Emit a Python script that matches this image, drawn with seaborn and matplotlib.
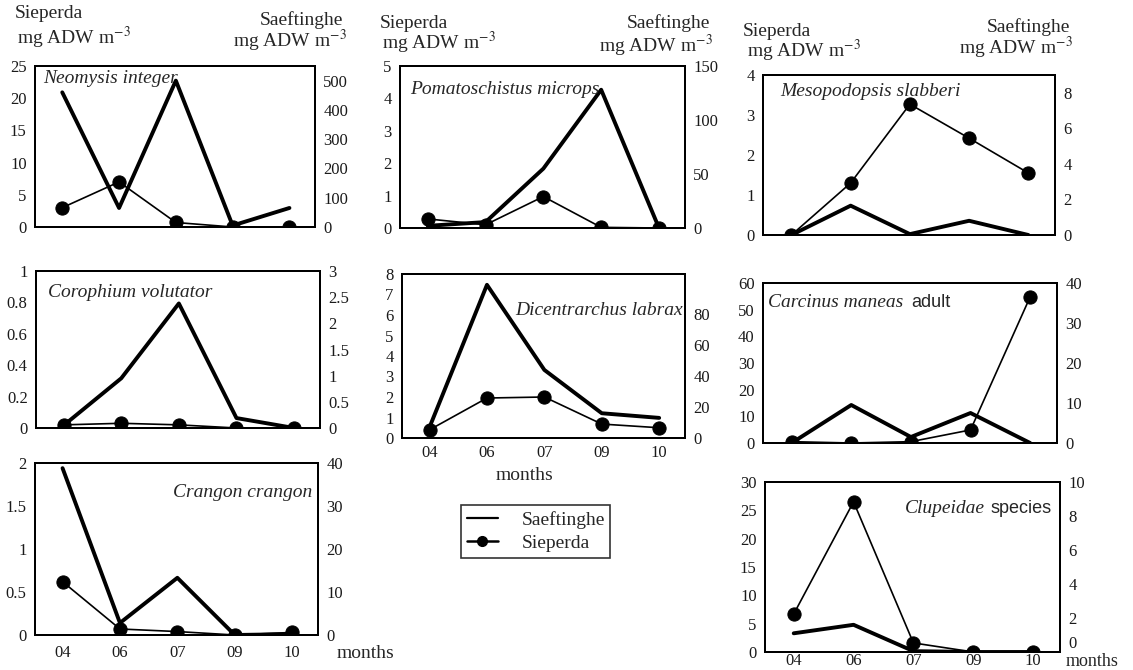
import matplotlib

matplotlib.use("Agg")
import matplotlib.pyplot as plt  # noqa: E402
import pandas as pd  # noqa: E402
import seaborn as sns  # noqa: E402
from matplotlib.lines import Line2D  # noqa: E402

MONTHS = ["04", "06", "07", "09", "10"]

# Sieperda on the left axis, Saeftinghe on the right axis (mg ADW m-3)
neomysis_sieperda = [3.0, 7.0, 0.7, 0.0, 0.0]
neomysis_saeftinghe = [460, 65, 500, 5, 65]
pomato_sieperda = [0.28, 0.1, 0.97, 0.02, 0.0]
pomato_saeftinghe = [2, 5.5, 55, 128, 0]
mesopo_sieperda = [0.0, 1.3, 3.27, 2.42, 1.55]
mesopo_saeftinghe = [0.0, 1.65, 0.05, 0.8, 0.0]
corophium_sieperda = [0.02, 0.03, 0.02, 0.0, 0.0]
corophium_saeftinghe = [0.05, 0.95, 2.38, 0.19, 0.0]
dicentr_sieperda = [0.4, 1.95, 2.0, 0.68, 0.5]
dicentr_saeftinghe = [7, 99, 44, 16, 13]
carcinus_sieperda = [0.5, 0.0, 0.5, 4.9, 54.8]
carcinus_saeftinghe = [0.0, 9.5, 1.5, 7.5, 0.0]
crangon_sieperda = [0.62, 0.07, 0.04, 0.0, 0.03]
crangon_saeftinghe = [38.8, 2.8, 13.3, 0.0, 0.2]
clupeidae_sieperda = [6.7, 26.5, 1.6, 0.0, 0.0]
clupeidae_saeftinghe = [1.1, 1.6, 0.05, 0.0, 0.0]

W, H = 1133, 670
SERIF = "Liberation Serif"
SANS = "Liberation Sans"

sns.set_theme(style="white")
plt.rcParams["font.family"] = [SERIF, "DejaVu Serif"]
plt.rcParams["mathtext.fontset"] = "stix"


def rect(l, r, t, b):
    return [l / W, 1 - b / H, (r - l) / W, (b - t) / H]


def fx(x):
    return x / W


def fy(y):
    return 1 - y / H


# name, sieperda, saeftinghe, box (l, r, t, b), left ylim/ticks, right ylim/ticks, month tick pad
panels = [
    ("neomysis", neomysis_sieperda, neomysis_saeftinghe, (35, 315, 66, 227),
     (25, [0, 5, 10, 15, 20, 25]), (550, [0, 100, 200, 300, 400, 500]), None),
    ("pomato", pomato_sieperda, pomato_saeftinghe, (400, 685, 66, 228),
     (5, [0, 1, 2, 3, 4, 5]), (150, [0, 50, 100, 150]), None),
    ("mesopo", mesopo_sieperda, mesopo_saeftinghe, (763, 1055, 75, 235),
     (4, [0, 1, 2, 3, 4]), (9, [0, 2, 4, 6, 8]), None),
    ("corophium", corophium_sieperda, corophium_saeftinghe, (36, 320, 271, 428),
     (1, [0, 0.2, 0.4, 0.6, 0.8, 1]), (3, [0, 0.5, 1, 1.5, 2, 2.5, 3]), None),
    ("dicentr", dicentr_sieperda, dicentr_saeftinghe, (402, 685, 274, 438),
     (8, [0, 1, 2, 3, 4, 5, 6, 7, 8]), (106, [0, 20, 40, 60, 80]), 5),
    ("carcinus", carcinus_sieperda, carcinus_saeftinghe, (763, 1057, 283, 443),
     (60, [0, 10, 20, 30, 40, 50, 60]), (40, [0, 10, 20, 30, 40]), None),
    ("crangon", crangon_sieperda, crangon_saeftinghe, (35, 318, 463, 635),
     (2, [0, 0.5, 1, 1.5, 2]), (40, [0, 10, 20, 30, 40]), 7),
    ("clupeidae", clupeidae_sieperda, clupeidae_saeftinghe, (765, 1060, 482, 652),
     (30, [0, 5, 10, 15, 20, 25, 30]), (10, [0, 2, 4, 6, 8, 10]), 1),
]

fig = plt.figure(figsize=(W / 100, H / 100), dpi=100)
right_axes = {}

for name, siep, saef, box, left, right, month_pad in panels:
    df = pd.DataFrame({"x": range(len(MONTHS)), "sieperda": siep, "saeftinghe": saef})
    ax = fig.add_axes(rect(*box))
    ax2 = ax.twinx()
    sns.lineplot(data=df, x="x", y="sieperda", ax=ax, color="black", linewidth=1.2,
                 marker="o", markersize=9.5, markeredgecolor="black", legend=False)
    sns.lineplot(data=df, x="x", y="saeftinghe", ax=ax2, color="black", linewidth=2.8,
                 legend=False)
    ax.set_xlim(-0.48, 4.45)
    ax.set_ylim(0, left[0])
    ax2.set_ylim(0, right[0])
    ax.set_yticks(left[1], [f"{v:g}" for v in left[1]])
    ax2.set_yticks(right[1], [f"{v:g}" for v in right[1]])
    ax.set_xticks(range(len(MONTHS)), MONTHS if month_pad is not None else [])
    for a in (ax, ax2):
        a.set_xlabel("")
        a.set_ylabel("")
        a.tick_params(length=0, labelsize=12, colors="#1a1a1a", pad=6)
        for s in a.spines.values():
            s.set_linewidth(1.4)
            s.set_color("black")
    if month_pad is not None:
        ax.tick_params(axis="x", pad=month_pad)
    right_axes[name] = ax2

# the bottom-right "0" sits a little higher so "months" fits under it
right_axes["clupeidae"].get_yticklabels()[0].set_va("bottom")

# column headers
headers = [(15, 18, 17, 44, 343, 25, 347, 47),
           (380, 28, 382, 49, 710, 28, 713, 52),
           (743, 36, 747, 57, 1070, 32, 1073, 54)]
for sx, sy, mx, my, rx, ry, rmx, rmy in headers:
    fig.text(fx(sx), fy(sy), "Sieperda", fontsize=14, va="baseline")
    fig.text(fx(mx), fy(my), "mg ADW m$^{-3}$", fontsize=14, va="baseline")
    fig.text(fx(rx), fy(ry), "Saeftinghe", fontsize=14, va="baseline", ha="right")
    fig.text(fx(rmx), fy(rmy), "mg ADW m$^{-3}$", fontsize=14, va="baseline", ha="right")

# species labels
sp = dict(fontsize=14, style="italic", va="baseline")
fig.text(fx(43), fy(83), "Neomysis integer", **sp)
fig.text(fx(410), fy(94), "Pomatoschistus microps", **sp)
fig.text(fx(780), fy(96), "Mesopodopsis slabberi", **sp)
fig.text(fx(48), fy(297), "Corophium volutator", **sp)
fig.text(fx(683), fy(315), "Dicentrarchus labrax", ha="right", **sp)
t = fig.text(fx(768), fy(307), "Carcinus maneas", **sp)
fig.canvas.draw()
renderer = fig.canvas.get_renderer()
bb = t.get_window_extent(renderer)
fig.text(fx(bb.x1 + 8), fy(307), "adult", family=SANS, fontsize=13, va="baseline")
fig.text(fx(312), fy(497), "Crangon crangon", ha="right", **sp)
t2 = fig.text(fx(1052), fy(513), "species", family=SANS, fontsize=13, va="baseline", ha="right")
bb2 = t2.get_window_extent(renderer)
fig.text(fx(bb2.x0 - 6), fy(513), "Clupeidae", ha="right", **sp)

# month labels
fig.text(fx(524), fy(475), "months", fontsize=14, ha="center", va="center")
fig.text(fx(337), fy(654), "months", fontsize=14, ha="left", va="center")
fig.text(fx(1066), fy(662), "months", fontsize=13, ha="left", va="center")

handles = [
    Line2D([], [], color="black", linewidth=1.6),
    Line2D([], [], color="black", linewidth=1.8, marker="o", markersize=7),
]
leg = fig.legend(handles, ["Saeftinghe", "Sieperda"], loc="upper left",
                 bbox_to_anchor=(fx(461), fy(505)), frameon=True, fancybox=False,
                 fontsize=14, handlelength=1.6, handletextpad=1.2, borderpad=0.3,
                 labelspacing=0.3, borderaxespad=0)
leg.get_frame().set_edgecolor("black")
leg.get_frame().set_linewidth(1.2)

fig.savefig("out.png", dpi=100)
